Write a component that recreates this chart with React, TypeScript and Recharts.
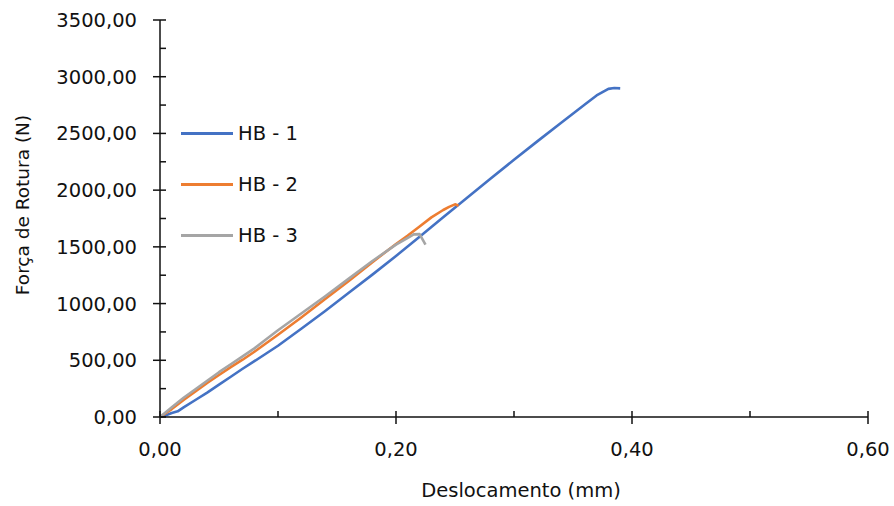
import React from 'react'
import { LineChart, Line, XAxis, YAxis } from 'recharts'

// Deslocamento (mm) / Força (N) por provete
const HB1_DESL = [0, 0.005, 0.01, 0.015, 0.02, 0.03, 0.04, 0.05, 0.06, 0.07, 0.08, 0.09, 0.1, 0.12, 0.14, 0.16, 0.18, 0.2, 0.22, 0.24, 0.26, 0.28, 0.3, 0.32, 0.34, 0.36, 0.37, 0.38, 0.385, 0.39]
const HB1_FORCA = [0, 15, 35, 50, 85, 150, 215, 285, 355, 425, 492, 560, 628, 780, 935, 1095, 1255, 1420, 1590, 1760, 1930, 2100, 2268, 2432, 2595, 2755, 2835, 2893, 2900, 2897]

const HB2_DESL = [0, 0.01, 0.02, 0.03, 0.04, 0.05, 0.06, 0.07, 0.08, 0.09, 0.1, 0.12, 0.14, 0.16, 0.18, 0.2, 0.21, 0.22, 0.23, 0.24, 0.245, 0.25, 0.253]
const HB2_FORCA = [0, 70, 150, 225, 300, 370, 440, 505, 575, 650, 725, 880, 1040, 1200, 1365, 1525, 1600, 1680, 1760, 1825, 1852, 1875, 1862]

const HB3_DESL = [0, 0.01, 0.02, 0.03, 0.04, 0.05, 0.06, 0.07, 0.08, 0.09, 0.1, 0.12, 0.14, 0.16, 0.18, 0.2, 0.21, 0.215, 0.22, 0.225]
const HB3_FORCA = [0, 85, 170, 245, 320, 395, 465, 535, 605, 685, 765, 915, 1065, 1220, 1375, 1520, 1580, 1610, 1612, 1520]

const X_TICKS = [0, 0.1, 0.2, 0.3, 0.4, 0.5, 0.6]
const Y_TICKS = [0, 250, 500, 750, 1000, 1250, 1500, 1750, 2000, 2250, 2500, 2750, 3000, 3250, 3500]

const FONT = '"DejaVu Sans", sans-serif'
const INK = '#111'

const toPoints = (xs: number[], ys: number[]) => xs.map((x, i) => ({ x, y: ys[i] }))

const SERIES = [
  { name: 'HB - 1', color: '#4472C4', data: toPoints(HB1_DESL, HB1_FORCA) },
  { name: 'HB - 2', color: '#ED7D31', data: toPoints(HB2_DESL, HB2_FORCA) },
  { name: 'HB - 3', color: '#A5A5A5', data: toPoints(HB3_DESL, HB3_FORCA) },
]

const fmt = (v: number) => v.toFixed(2).replace('.', ',')

// ticks drawn by hand: labelled ones cross the axis, the others only point inwards
function XTick({ x, y, payload }: any) {
  const major = Math.round(payload.value * 10) % 2 === 0
  return (
    <g>
      <line x1={x} x2={x} y1={y - 6} y2={major ? y + 7 : y} stroke={INK} strokeWidth={1.5} />
      {major && (
        <text x={x} y={y + 39} textAnchor="middle" fontFamily={FONT} fontSize={19.5} fill={INK}>
          {fmt(payload.value)}
        </text>
      )}
    </g>
  )
}

function YTick({ x, y, payload }: any) {
  const major = payload.value % 500 === 0
  return (
    <g>
      <line x1={major ? x - 7 : x} x2={x + 6} y1={y} y2={y} stroke={INK} strokeWidth={1.5} />
      {major && (
        <text x={x - 23} y={y + 7} textAnchor="end" fontFamily={FONT} fontSize={19.5} fill={INK}>
          {fmt(payload.value)}
        </text>
      )}
    </g>
  )
}

function Legenda() {
  const rows = [133, 184, 235]
  return (
    <div style={{ position: 'absolute', left: 0, top: 0, pointerEvents: 'none' }}>
      {SERIES.map((s, i) => (
        <div
          key={s.name}
          style={{ position: 'absolute', left: 181, top: rows[i] - 12, height: 24, display: 'flex', alignItems: 'center', whiteSpace: 'nowrap' }}
        >
          <span style={{ display: 'inline-block', width: 52, height: 3, background: s.color }} />
          <span style={{ marginLeft: 5, fontFamily: FONT, fontSize: 19.5, color: INK }}>{s.name}</span>
        </div>
      ))}
    </div>
  )
}

export default function App() {
  return (
    <div style={{ position: 'absolute', left: 0, top: 0, width: 894, height: 506, background: '#fff' }}>
      <LineChart width={894} height={506} margin={{ top: 20, right: 26, bottom: 0, left: 0 }}>
        <XAxis
          type="number"
          dataKey="x"
          domain={[0, 0.6]}
          ticks={X_TICKS}
          interval={0}
          height={89}
          tickSize={0}
          tickMargin={0}
          tickLine={false}
          tick={<XTick />}
          axisLine={{ stroke: INK, strokeWidth: 1.5 }}
          label={() => (
            <text x={521} y={497} textAnchor="middle" fontFamily={FONT} fontSize={19.5} fill={INK}>
              Deslocamento (mm)
            </text>
          )}
        />
        <YAxis
          type="number"
          domain={[0, 3500]}
          ticks={Y_TICKS}
          interval={0}
          width={160}
          tickSize={0}
          tickMargin={0}
          tickLine={false}
          tick={<YTick />}
          axisLine={{ stroke: INK, strokeWidth: 1.5 }}
          label={() => (
            <text
              x={22}
              y={205}
              transform="rotate(-90 22 205)"
              textAnchor="middle"
              dominantBaseline="central"
              fontFamily={FONT}
              fontSize={18.5}
              fill={INK}
            >
              Força de Rotura (N)
            </text>
          )}
        />
        {SERIES.map((s) => (
          <Line
            key={s.name}
            data={s.data}
            dataKey="y"
            name={s.name}
            type="linear"
            stroke={s.color}
            strokeWidth={2.6}
            strokeLinejoin="round"
            dot={false}
            isAnimationActive={false}
          />
        ))}
      </LineChart>
      <Legenda />
    </div>
  )
}
